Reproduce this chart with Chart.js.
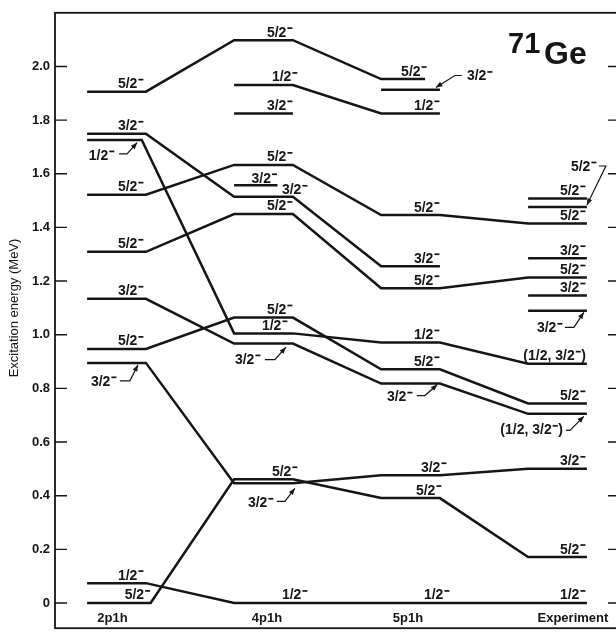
<!DOCTYPE html>
<html><head><meta charset="utf-8">
<script src="https://cdn.jsdelivr.net/npm/chart.js@4.4.0/dist/chart.umd.min.js"></script>
<style>
html,body{margin:0;padding:0;background:#fff;overflow:hidden;width:616px;height:641px}
#wrap{position:absolute;left:0;top:0;width:630px;height:641px}
canvas{display:block}
</style></head><body>
<div id="wrap"><canvas id="c" width="630" height="641"></canvas></div>
<script>
// ---------------- data ----------------
const columns = ['2p1h', '4p1h', '5p1h', 'Experiment'];
const yTickValues = [0, 0.2, 0.4, 0.6, 0.8, 1.0, 1.2, 1.4, 1.6, 1.8, 2.0];
const yTickLabels = ['0', '0.2', '0.4', '0.6', '0.8', '1.0', '1.2', '1.4', '1.6', '1.8', '2.0'];
const yTitle = 'Excitation energy (MeV)';
const nucleusMass = '71';
const nucleusSymbol = 'Ge';

// level energies (MeV) per column [2p1h, 4p1h, 5p1h, Experiment]; null = no level
const bandA = [1.906, 2.098, 1.953, null];   const spinA = ['5/2-', '5/2-', '5/2-', null];
const bandB = [null, 1.931, 1.825, null];    const spinB = [null, '1/2-', '1/2-', null];
const bandC = [1.749, 1.514, 1.255, null];   const spinC = ['3/2-', '3/2-', '3/2-', null];
const bandD = [1.726, 1.005, 0.971, 0.892];  const spinD = ['1/2-', '1/2-', '1/2-', '(1/2, 3/2-)'];
const bandE = [1.522, 1.633, 1.446, 1.415];  const spinE = ['5/2-', '5/2-', '5/2-', '5/2-'];
const bandF = [1.309, 1.450, 1.173, 1.213];  const spinF = ['5/2-', '5/2-', '5/2-', '5/2-'];
const bandG = [1.134, 0.967, 0.818, 0.705];  const spinG = ['3/2-', '3/2-', '3/2-', '(1/2, 3/2-)'];
const bandH = [0.947, 1.064, 0.871, 0.744];  const spinH = ['5/2-', '5/2-', '5/2-', '5/2-'];
const bandI = [0.895, 0.446, 0.476, 0.500];  const spinI = ['3/2-', '3/2-', '3/2-', '3/2-'];
const bandJ = [0.000, 0.461, 0.391, 0.171];  const spinJ = ['5/2-', '5/2-', '5/2-', '5/2-'];
const bandK = [0.074, 0.000, 0.000, 0.000];  const spinK = ['1/2-', '1/2-', '1/2-', '1/2-'];
// isolated levels
const single1 = [null, 1.825, null, null];   const sSpin1 = [null, '3/2-', null, null];
const single2 = [null, 1.557, null, null];   const sSpin2 = [null, '3/2-', null, null];
const single3 = [null, null, 1.913, null];   const sSpin3 = [null, null, '3/2-', null];
const single4 = [null, null, null, 1.508];   const sSpin4 = [null, null, null, '5/2-'];
const single5 = [null, null, null, 1.476];   const sSpin5 = [null, null, null, '5/2-'];
const single6 = [null, null, null, 1.285];   const sSpin6 = [null, null, null, '3/2-'];
const single7 = [null, null, null, 1.146];   const sSpin7 = [null, null, null, '3/2-'];
const single8 = [null, null, null, 1.089];   const sSpin8 = [null, null, null, '3/2-'];

const tracks = [
  {id:'A', e:bandA, j:spinA}, {id:'B', e:bandB, j:spinB}, {id:'C', e:bandC, j:spinC},
  {id:'D', e:bandD, j:spinD}, {id:'E', e:bandE, j:spinE}, {id:'F', e:bandF, j:spinF},
  {id:'G', e:bandG, j:spinG}, {id:'H', e:bandH, j:spinH}, {id:'I', e:bandI, j:spinI},
  {id:'J', e:bandJ, j:spinJ}, {id:'K', e:bandK, j:spinK},
  {id:'S1', e:single1, j:sSpin1}, {id:'S2', e:single2, j:sSpin2}, {id:'S3', e:single3, j:sSpin3},
  {id:'S4', e:single4, j:sSpin4}, {id:'S5', e:single5, j:sSpin5}, {id:'S6', e:single6, j:sSpin6},
  {id:'S7', e:single7, j:sSpin7}, {id:'S8', e:single8, j:sSpin8}
];

// ---------------- layout ----------------
const colCenter = [1, 2, 3, 4];
const halfSpan = 0.2;
const xMin = 0.5816, xMax = 4.4252;
const colLabelX = [0.973, 2.024, 2.983, 4.105];
const spanTweaks = {'S2:1':[-0.2, 0.095], 'A:2':[-0.2, 0.099], 'J:0':[-0.2, 0.232], 'D:0':[-0.2, 0.172]};
const colDx = [-2, 0, 0, -1];
const labelTweaks = {
  'D:0': {dx:-27, dy:20, arrow:[[-22.7,14],[-14.7,14],[-4.7,2.7]]},
  'I:0': {dx:-29, dy:23, arrow:[[-26,18],[-16,18],[-8,2]]},
  'G:1': {dx:-32, dy:20.4, arrow:[[-28,16],[-18,16],[-7,3.7]]},
  'I:1': {dx:-19, dy:24, arrow:[[-16,18],[-8,18],[2,5]]},
  'S3:2': {dx:53, dy:-9.3, arrow:[[22,-14.3],[15,-14.3],[-4,-2.3]]},
  'G:2': {dx:-27, dy:17.6, arrow:[[-23,12],[-15,12],[-2.5,1]]},
  'S5:3': {dx:10, dy:-36, arrow:[[12,-41],[19,-41],[0,-2]]},
  'S8:3': {dx:-24, dy:21.5, arrow:[[-22,16.5],[-13,16.5],[-3,1.5]]},
  'G:3': {dx:-24, dy:20.5, arrow:[[-21,16.5],[-17,16.5],[-3,2.5]]},
  'C:1': {dx:15, dy:-2.5},
  'S2:1': {dx:0, dy:-2.5},
  'K:1': {dx:15}, 'K:2': {dx:10}, 'K:3': {dx:-1},
  'J:0': {dx:0}, 'J:1': {dx:5}, 'I:2': {dx:7}, 'J:2': {dx:2}, 'B:1': {dx:5}, 'D:1': {dx:-5}, 'A:2': {dx:2}
};
const INK = '#151515';
const FAM = '"Liberation Sans", Arial, Helvetica, sans-serif';

function spanOf(id, c) {
  return spanTweaks[id + ':' + c] || [-halfSpan, halfSpan];
}

const datasets = tracks.map(t => {
  const pts = [];
  t.e.forEach((v, c) => {
    if (v === null) return;
    const s = spanOf(t.id, c);
    pts.push({x: colCenter[c] + s[0], y: v});
    pts.push({x: colCenter[c] + s[1], y: v});
  });
  return {label: t.id, data: pts, borderColor: INK, borderWidth: 2.5, pointRadius: 0,
          tension: 0, fill: false, borderJoinStyle: 'miter', borderCapStyle: 'butt'};
});

function drawSpin(ctx, text, xRight, baseline) {
  const segs = []; let buf = '';
  for (const ch of text) {
    if (ch === '-') { if (buf) segs.push({t: buf}); segs.push({minus: true}); buf = ''; }
    else buf += ch;
  }
  if (buf) segs.push({t: buf});
  ctx.font = 'bold 14px ' + FAM;
  let total = 0;
  segs.forEach(s => { s.w = s.minus ? 6.5 : ctx.measureText(s.t).width; total += s.w; });
  let x = xRight - total;
  ctx.textAlign = 'left'; ctx.textBaseline = 'alphabetic';
  segs.forEach(s => {
    if (s.minus) ctx.fillRect(x + 1, baseline - 9.4, 5, 1.7);
    else ctx.fillText(s.t, x, baseline);
    x += s.w;
  });
}

function drawArrow(ctx, pts) {
  ctx.lineWidth = 1.2;
  ctx.beginPath();
  ctx.moveTo(pts[0][0], pts[0][1]);
  for (let i = 1; i < pts.length; i++) ctx.lineTo(pts[i][0], pts[i][1]);
  ctx.stroke();
  const [x1, y1] = pts[pts.length - 2], [x2, y2] = pts[pts.length - 1];
  const a = Math.atan2(y2 - y1, x2 - x1), L = 6.5, W = 2.6;
  const ca = Math.cos(a), sa = Math.sin(a);
  ctx.beginPath();
  ctx.moveTo(x2, y2);
  ctx.lineTo(x2 - L * ca + W * sa, y2 - L * sa - W * ca);
  ctx.lineTo(x2 - L * ca - W * sa, y2 - L * sa + W * ca);
  ctx.closePath();
  ctx.fill();
}

const decor = {
  id: 'decor',
  afterDatasetsDraw(chart) {
    const ctx = chart.ctx, xs = chart.scales.x, ys = chart.scales.y, ca = chart.chartArea;
    ctx.save();
    ctx.fillStyle = INK; ctx.strokeStyle = INK;
    // level labels
    tracks.forEach(t => {
      t.e.forEach((v, c) => {
        if (v === null || !t.j[c]) return;
        const key = t.id + ':' + c;
        const s = spanOf(t.id, c);
        const xr = xs.getPixelForValue(colCenter[c] + s[1]);
        const yp = ys.getPixelForValue(v);
        const tw = labelTweaks[key] || {};
        const dx = tw.dx !== undefined ? tw.dx : colDx[c];
        const dy = tw.dy !== undefined ? tw.dy : -3.5;
        drawSpin(ctx, t.j[c], xr + dx, yp + dy);
        if (tw.arrow) drawArrow(ctx, tw.arrow.map(p => [xr + p[0], yp + p[1]]));
      });
    });
    // column names
    ctx.font = 'bold 13px ' + FAM;
    ctx.textAlign = 'center'; ctx.textBaseline = 'alphabetic';
    columns.forEach((name, c) => ctx.fillText(name, xs.getPixelForValue(colLabelX[c]), ca.bottom - 6));
    // nucleus
    ctx.textAlign = 'left';
    ctx.font = 'bold 29px ' + FAM;
    ctx.fillText(nucleusMass, 508, 53);
    ctx.font = 'bold 32px ' + FAM;
    ctx.fillText(nucleusSymbol, 544, 64);
    // y title
    ctx.save();
    ctx.translate(14, 308);
    ctx.rotate(-Math.PI / 2);
    ctx.font = '13px ' + FAM;
    ctx.textAlign = 'center'; ctx.textBaseline = 'middle';
    ctx.fillText(yTitle, 0, 0);
    ctx.restore();
    // frame
    ctx.lineWidth = 1.8;
    ctx.strokeRect(ca.left, ca.top, ca.right - ca.left, ca.bottom - ca.top);
    // inward ticks
    ctx.lineWidth = 1.4;
    yTickValues.forEach(v => {
      const y = ys.getPixelForValue(v);
      ctx.beginPath();
      ctx.moveTo(ca.left, y); ctx.lineTo(ca.left + 12, y);
      ctx.moveTo(ca.right - 12, y); ctx.lineTo(ca.right, y);
      ctx.stroke();
    });
    ctx.restore();
  }
};

new Chart(document.getElementById('c'), {
  type: 'line',
  data: {datasets},
  options: {
    responsive: false, animation: false, devicePixelRatio: 1,
    layout: {padding: {left: 0, right: 10, top: 6, bottom: 2}},
    plugins: {legend: {display: false}, tooltip: {enabled: false}},
    scales: {
      x: {type: 'linear', min: xMin, max: xMax, display: false},
      y: {
        type: 'linear', min: -0.094, max: 2.2, position: 'left',
        afterFit: s => { s.width = 55; },
        afterBuildTicks: s => { s.ticks = yTickValues.map(v => ({value: v})); },
        ticks: {autoSkip: false, padding: 5, color: INK,
                font: {family: FAM, size: 13, weight: 'bold'},
                callback: (v, i) => yTickLabels[i]},
        grid: {display: false, drawTicks: false},
        border: {display: false}
      }
    }
  },
  plugins: [decor]
});
</script>
</body></html>
